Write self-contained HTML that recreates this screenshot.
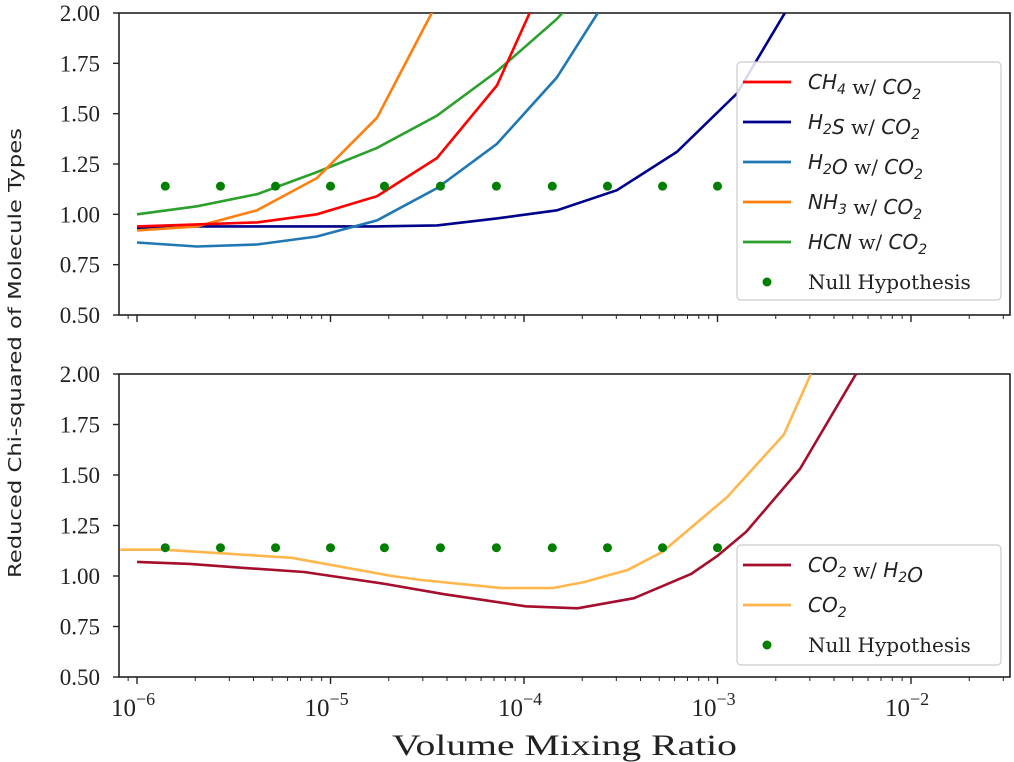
<!DOCTYPE html>
<html><head><meta charset="utf-8"><style>
body{margin:0;background:#fff}
svg{display:block}
text{font-family:"Liberation Serif","DejaVu Serif",serif;fill:#222}
.lg{font-family:"DejaVu Serif","Liberation Serif",serif}
.it{font-family:"DejaVu Sans","Liberation Sans",sans-serif;font-style:italic}
</style></head><body>
<svg id="chart" width="1014" height="762" xmlns="http://www.w3.org/2000/svg"></svg>
<script>
const nullX=[1.4e-6,2.7e-6,5.2e-6,1e-5,1.9e-5,3.7e-5,7.2e-5,1.4e-4,2.7e-4,5.2e-4,1e-3];
const nullY=[1.14,1.14,1.14,1.14,1.14,1.14,1.14,1.14,1.14,1.14,1.14];
const topX=[1e-6,2.04e-6,4.17e-6,8.51e-6,1.74e-5,3.55e-5,7.24e-5,1.48e-4,3.02e-4,6.17e-4,1.26e-3,2.57e-3];
const ch4Y=[0.94,0.95,0.96,1.00,1.09,1.28,1.64,2.3];
const h2sY=[0.93,0.94,0.94,0.94,0.94,0.945,0.98,1.02,1.12,1.31,1.60,2.1];
const h2oY=[0.86,0.84,0.85,0.89,0.97,1.13,1.35,1.68,2.15];
const nh3Y=[0.92,0.94,1.02,1.18,1.48,2.05];
const hcnY=[1.00,1.04,1.10,1.21,1.33,1.49,1.71,1.97,2.3];
const co2wX=[1e-6,1.88e-6,3.57e-6,7.3e-6,1.94e-5,3.86e-5,1.02e-4,1.89e-4,3.7e-4,7.3e-4,1.0e-3,1.41e-3,2.67e-3,5.2e-3];
const co2wY=[1.07,1.06,1.04,1.02,0.96,0.91,0.85,0.84,0.89,1.01,1.10,1.22,1.53,2.0];
const co2X=[8.2e-7,1.38e-6,6.3e-6,2.08e-5,2.94e-5,7.7e-5,1.4e-4,2.04e-4,3.44e-4,5.2e-4,1.12e-3,2.2e-3,3.04e-3];
const co2Y=[1.13,1.13,1.09,1.00,0.98,0.94,0.94,0.97,1.03,1.12,1.39,1.70,2.0];
const yTicks=[0.5,0.75,1.0,1.25,1.5,1.75,2.0];
const yTickLabels=["0.50","0.75","1.00","1.25","1.50","1.75","2.00"];
const xDecades=[-6,-5,-4,-3,-2];

const NS="http://www.w3.org/2000/svg";
const svg=document.getElementById('chart');
const L=119,R=1010,DEC=193.5,X0=137;
const xs=v=>X0+(Math.log10(v)+6)*DEC;
const panels=[{t:13,b:315},{t:374,b:677}];
function ys(p,v){return p.b-(v-0.5)/1.5*(p.b-p.t);}
function el(tag,attrs,parent){const e=document.createElementNS(NS,tag);for(const k in attrs)e.setAttribute(k,attrs[k]);(parent||svg).appendChild(e);return e;}
const defs=el('defs',{});
panels.forEach((p,i)=>{const c=el('clipPath',{id:'clip'+i},defs);el('rect',{x:L,y:p.t,width:R-L,height:p.b-p.t},c);});

function line(p,i,X,Y,color,name){
  const pts=X.slice(0,Y.length).map((x,k)=>xs(x).toFixed(1)+','+ys(p,Y[k]).toFixed(1)).join(' ');
  const e=el('polyline',{points:pts,fill:'none',stroke:color,'stroke-width':2.6,'clip-path':'url(#clip'+i+')'});
  
  
}
function dots(p,i,name){
  const g=el('g',{});
  
  
  nullX.forEach((x,k)=>el('circle',{cx:xs(x),cy:ys(p,nullY[k]),r:4.5,fill:'#007f00'},g));
}

panels.forEach((p,i)=>{
  const ax=el('g',{});
  
  
  el('rect',{x:L,y:p.t,width:R-L,height:p.b-p.t,fill:'none',stroke:'#222','stroke-width':1.6},ax);
  yTicks.forEach((v,k)=>{
    const y=ys(p,v);
    el('line',{x1:L-6,x2:L,y1:y,y2:y,stroke:'#222','stroke-width':1.4},ax);
    const t=el('text',{x:L-19,y:y+8,'text-anchor':'end','font-size':23},ax);
    t.textContent=yTickLabels[k];
    
    
  });
  for(let d=-7;d<=-2;d++){for(let m=1;m<10;m++){
    const x=xs(m*Math.pow(10,d)); if(x<L||x>R)continue;
    el('line',{x1:x,x2:x,y1:p.b,y2:p.b+(m==1?7:4),stroke:'#222','stroke-width':m==1?1.4:1},ax);
  }}
  if(i==1){xDecades.forEach(d=>{
    const t=el('text',{x:xs(Math.pow(10,d))-26,y:p.b+39,'font-size':25},ax);
    
    
    t.innerHTML='10<tspan dy="-11" font-size="18">\u2212'+(-d)+'</tspan>';
  });}
});
const P0=panels[0],P1=panels[1];
line(P0,0,topX,h2sY,'#00008b','line-h2s');
line(P0,0,topX,h2oY,'#1f77b4','line-h2o');
line(P0,0,topX,hcnY,'#2ca02c','line-hcn');
line(P0,0,topX,nh3Y,'#ff7f0e','line-nh3');
line(P0,0,topX,ch4Y,'#ff0000','line-ch4');
dots(P0,0,'null-hypothesis-top');
line(P1,1,co2X,co2Y,'#ffb74d','line-co2');
line(P1,1,co2wX,co2wY,'#a50f2d','line-co2-h2o');
dots(P1,1,'null-hypothesis-bottom');

function legend(x,y,w,h,items,name){
  const g=el('g',{});
  
  
  el('rect',{x:x,y:y,width:w,height:h,rx:4,fill:'rgba(255,255,255,0.85)',stroke:'#ccc','stroke-width':1.2},g);
  items.forEach((it,k)=>{
    const cy=y+20+k*40;
    if(it.c) el('line',{x1:x+6,x2:x+54,y1:cy,y2:cy,stroke:it.c,'stroke-width':2.8},g);
    else el('circle',{cx:x+30,cy:cy,r:4.5,fill:'#007f00'},g);
    const t=el('text',{x:x+71,y:cy+7,'font-size':20,class:'lg'},g);
    t.innerHTML=it.h;
    
    
  });
}
const sub=s=>'<tspan dy="5" font-size="14">'+s+'</tspan><tspan dy="-5"></tspan>';
const wco2=' w/ <tspan class="it">CO'+sub('2')+'</tspan>';
legend(737,62,264,238,[
 {c:'#ff0000',h:'<tspan class="it">CH'+sub('4')+'</tspan>'+wco2},
 {c:'#00008b',h:'<tspan class="it">H'+sub('2')+'S</tspan>'+wco2},
 {c:'#1f77b4',h:'<tspan class="it">H'+sub('2')+'O</tspan>'+wco2},
 {c:'#ff7f0e',h:'<tspan class="it">NH'+sub('3')+'</tspan>'+wco2},
 {c:'#2ca02c',h:'<tspan class="it">HCN</tspan>'+wco2},
 {c:null,h:'Null Hypothesis'}],'legend-top');
legend(737,545,264,120,[
 {c:'#a50f2d',h:'<tspan class="it">CO'+sub('2')+'</tspan> w/ <tspan class="it">H'+sub('2')+'O</tspan>'},
 {c:'#ffb74d',h:'<tspan class="it">CO'+sub('2')+'</tspan>'},
 {c:null,h:'Null Hypothesis'}],'legend-bottom');

const xl=el('text',{x:392,y:755,'font-size':30,textLength:345,lengthAdjust:'spacingAndGlyphs'});
xl.textContent='Volume Mixing Ratio';


const yl=el('text',{x:0,y:0,'text-anchor':'middle','font-size':18,textLength:450,lengthAdjust:'spacingAndGlyphs',transform:'translate(21,353) rotate(-90)',style:'font-family:"DejaVu Sans","Liberation Sans",sans-serif'});
yl.textContent='Reduced Chi-squared of Molecule Types';


</script>
</body></html>
